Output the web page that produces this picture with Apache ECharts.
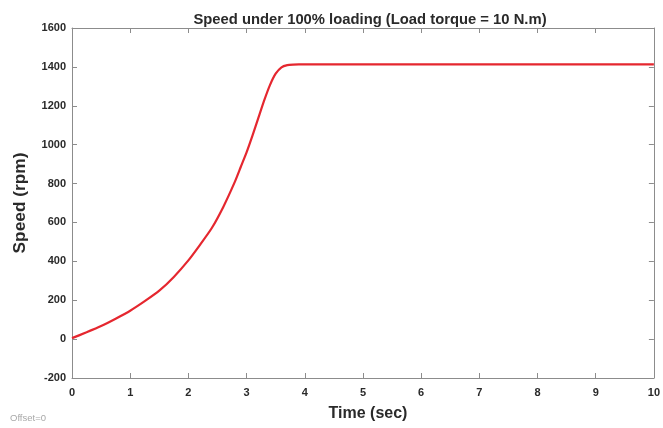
<!DOCTYPE html>
<html>
<head>
<meta charset="utf-8">
<script src="https://cdn.jsdelivr.net/npm/echarts@6/dist/echarts.min.js"></script>
<style>
  html, body { margin: 0; padding: 0; background: #fff; }
  #chart { width: 663px; height: 428px; }
</style>
</head>
<body>
<div id="chart"></div>
<script>
// time (sec) and motor speed (rpm)
var timeSec = [0, 0.25, 0.5, 0.75, 1, 1.25, 1.5, 1.75, 2, 2.2, 2.4, 2.6, 2.8, 2.9, 3, 3.1, 3.2, 3.3, 3.4, 3.5, 3.6, 3.7, 3.8, 3.9, 4, 5, 6, 7, 8, 9, 10];
var speedRpm = [5, 35, 67, 105, 146, 195, 249, 320, 405, 485, 570, 680, 810, 885, 960, 1045, 1135, 1225, 1305, 1365, 1398, 1409, 1412, 1413, 1413, 1413, 1413, 1413, 1413, 1413, 1413];
var xTicks = [0, 10, 1];
var yTicks = [-200, 1600, 200];

var chart = echarts.init(document.getElementById('chart'));

var pts = timeSec.map(function (t, i) { return [t, speedRpm[i]]; });
var axisCol = '#8c8c8c';
var textCol = '#2a2a2a';
var font = 'Liberation Sans, Arial, sans-serif';
var plain = function (v) { return String(v); };

function boxAxis(pos, ticks) {
  return {
    type: 'value', position: pos, min: ticks[0], max: ticks[1], interval: ticks[2],
    axisLine: { show: true, onZero: false, lineStyle: { color: axisCol, width: 1 } },
    axisTick: { show: true, inside: true, length: 5, lineStyle: { color: axisCol } },
    axisLabel: { show: false }, splitLine: { show: false }
  };
}

chart.setOption({
  animation: false,
  backgroundColor: '#fff',
  title: {
    text: 'Speed under 100% loading (Load torque = 10 N.m)',
    left: 365, textAlign: 'center', top: 7,
    textStyle: { fontSize: 14.8, fontWeight: 'bold', color: textCol, fontFamily: font }
  },
  grid: { left: 72, right: 8, top: 28, bottom: 50 },
  xAxis: [{
    type: 'value', position: 'bottom', min: xTicks[0], max: xTicks[1], interval: xTicks[2],
    axisLine: { show: true, onZero: false, lineStyle: { color: axisCol, width: 1 } },
    axisTick: { show: true, inside: true, length: 5, lineStyle: { color: axisCol } },
    axisLabel: { fontSize: 11, fontWeight: 'bold', color: textCol, margin: 9, fontFamily: font, formatter: plain },
    splitLine: { show: false }
  }, boxAxis('top', xTicks)],
  yAxis: [{
    type: 'value', position: 'left', min: yTicks[0], max: yTicks[1], interval: yTicks[2],
    axisLine: { show: true, onZero: false, lineStyle: { color: axisCol, width: 1 } },
    axisTick: { show: true, inside: true, length: 5, lineStyle: { color: axisCol } },
    axisLabel: { fontSize: 11, fontWeight: 'bold', color: textCol, margin: 6, fontFamily: font, formatter: plain },
    splitLine: { show: false }
  }, boxAxis('right', yTicks)],
  graphic: [{
    type: 'text', x: 368, y: 414,
    style: { text: 'Time (sec)', fontSize: 16, fontWeight: 'bold', fill: textCol, fontFamily: font,
             align: 'center', verticalAlign: 'middle' }
  }, {
    type: 'text', x: 21, y: 203, rotation: Math.PI / 2, scaleX: 1.08,
    style: { text: 'Speed (rpm)', fontSize: 16, fontWeight: 'bold', fill: textCol, fontFamily: font,
             align: 'center', verticalAlign: 'middle' }
  }, {
    type: 'text', x: 10, y: 418,
    style: { text: 'Offset=0', fontSize: 9.5, fill: '#a8a8a8', fontFamily: font, verticalAlign: 'middle' }
  }],
  series: [{
    type: 'line', data: pts, showSymbol: false, smooth: 0.2,
    lineStyle: { color: '#e5272f', width: 2.2 }
  }]
});
</script>
</body>
</html>
